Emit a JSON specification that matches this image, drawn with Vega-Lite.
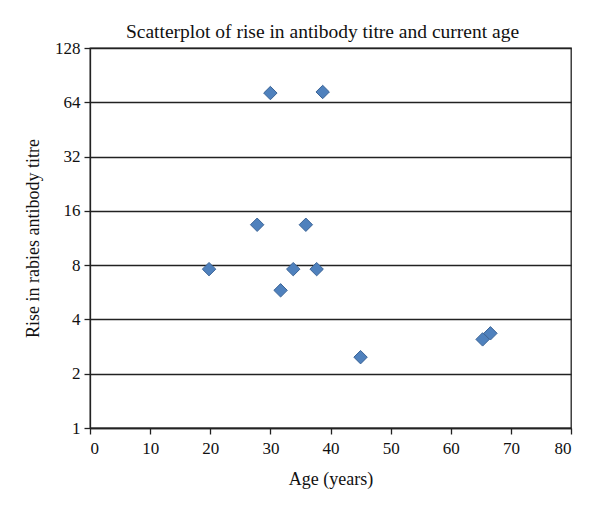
{
  "$schema": "https://vega.github.io/schema/vega-lite/v6.json",
  "autosize": "none",
  "width": 481,
  "height": 380,
  "padding": {"left": 90, "top": 48, "right": 29, "bottom": 83},
  "background": "white",
  "title": {
    "text": "Scatterplot of rise in antibody titre and current age",
    "font": "Liberation Serif",
    "fontSize": 19.5,
    "fontWeight": "normal",
    "color": "#111",
    "offset": -3,
    "dx": -8
  },
  "config": {
    "view": {"stroke": "#222", "strokeWidth": 1.3},
    "axis": {
      "labelFont": "Liberation Serif",
      "titleFont": "Liberation Serif",
      "labelFontSize": 17,
      "titleFontSize": 18,
      "titleFontWeight": "normal",
      "labelColor": "#111",
      "titleColor": "#111",
      "domainColor": "#222",
      "tickColor": "#222",
      "domainWidth": 1.3,
      "tickWidth": 1.3
    }
  },
  "data": {
    "values": [
      {"age": 30, "titre": 72},
      {"age": 38.7, "titre": 73},
      {"age": 27.8, "titre": 13.4},
      {"age": 35.9, "titre": 13.4},
      {"age": 19.8, "titre": 7.6},
      {"age": 33.8, "titre": 7.6},
      {"age": 37.7, "titre": 7.6},
      {"age": 31.7, "titre": 5.8},
      {"age": 45, "titre": 2.47},
      {"age": 65.3, "titre": 3.1},
      {"age": 66.6, "titre": 3.35}
    ]
  },
  "mark": {"type": "point", "shape": "diamond", "filled": true, "size": 180, "fill": "#4F81BD", "stroke": "#3B6496", "strokeWidth": 1, "opacity": 1},
  "encoding": {
    "x": {
      "field": "age",
      "type": "quantitative",
      "scale": {"domain": [0, 80], "nice": false},
      "axis": {"title": "Age (years)", "values": [0, 10, 20, 30, 40, 50, 60, 70, 80], "grid": false, "tickSize": 6, "labelPadding": 6, "titlePadding": 14}
    },
    "y": {
      "field": "titre",
      "type": "quantitative",
      "scale": {"type": "log", "base": 2, "domain": [1, 128], "nice": false},
      "axis": {"title": "Rise in rabies antibody titre", "values": [1, 2, 4, 8, 16, 32, 64, 128], "format": "d", "grid": true, "gridColor": "#222", "gridWidth": 1.3, "gridOpacity": 1, "tickSize": 6, "labelPadding": 4, "titlePadding": 12}
    }
  }
}
